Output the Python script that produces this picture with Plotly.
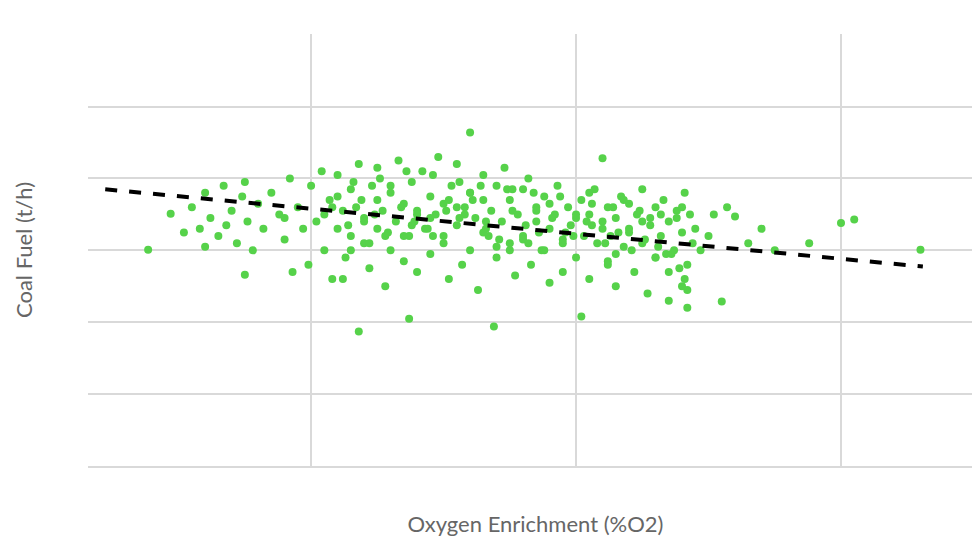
import plotly.graph_objects as go

# oxygen enrichment (grid units) and coal fuel (grid units)
oxygen = [0.385, 0.47, 0.52, 0.55, 0.58, 0.6, 0.6, 0.62, 0.65, 0.67, 0.68, 0.7, 0.72, 0.74, 0.75, 0.75, 0.76, 0.78, 0.8, 0.82,
          0.85, 0.88, 0.9, 0.92, 0.93, 0.95, 0.97, 0.99, 1.0, 1.02, 1.04, 1.05, 1.07, 1.08, 1.1, 1.1, 1.12, 1.13, 1.15, 1.15,
          1.17, 1.18, 1.18, 1.2, 1.2, 1.22, 1.23, 1.25, 1.25, 1.27, 1.28, 1.3, 1.3, 1.32, 1.33, 1.35, 1.35, 1.37, 1.37, 1.38,
          1.4, 1.4, 1.42, 1.43, 1.45, 1.45, 1.47, 1.48, 1.5, 1.5, 1.52, 1.53, 1.55, 1.55, 1.57, 1.58, 1.6, 1.6, 1.6, 1.62,
          1.63, 1.65, 1.65, 1.67, 1.68, 1.69, 1.7, 1.7, 1.72, 1.73, 1.75, 1.75, 1.77, 1.78, 1.8, 1.8, 1.82, 1.83, 1.85, 1.85,
          1.87, 1.88, 1.9, 1.9, 1.92, 1.93, 1.95, 1.95, 1.97, 1.98, 2.0, 2.0, 2.02, 2.02, 2.03, 2.05, 2.05, 2.07, 2.08, 2.1,
          2.1, 2.12, 2.12, 2.13, 2.15, 2.15, 2.17, 2.18, 2.2, 2.2, 2.22, 2.23, 2.25, 2.25, 2.27, 2.28, 2.3, 2.3, 2.32, 2.33,
          2.35, 2.35, 2.37, 2.38, 2.4, 2.4, 2.41, 2.42, 2.42, 2.43, 2.44, 2.45, 2.47, 2.5, 2.52, 2.55, 2.57, 2.6, 2.65, 2.7,
          2.75, 2.88, 3.0, 3.05, 3.3, 1.05, 1.15, 1.25, 1.35, 1.45, 1.55, 1.65, 1.75, 1.85, 1.95, 2.05, 2.15, 2.25, 2.35, 1.1,
          1.3, 1.5, 1.7, 1.9, 2.1, 2.3, 0.9, 1.2, 1.4, 1.6, 1.8, 2.0, 2.2, 2.4, 1.12, 1.28, 1.44, 1.58, 1.74, 1.88, 2.04, 2.18,
          2.34, 1.08, 1.22, 1.38, 1.52, 1.66, 1.82, 1.96, 2.12, 2.28, 2.39,
          1.14, 1.19, 1.24, 1.29, 1.34, 1.39, 1.46, 1.51, 1.56, 1.61, 1.66, 1.71, 1.76, 1.81, 1.86, 1.91, 1.99, 2.06, 2.11, 2.16,
          2.21, 2.26, 2.31, 2.36, 2.41, 1.16, 1.26, 1.36, 1.46, 1.56, 1.64, 1.76, 1.84, 1.94, 2.06, 2.14, 2.24, 2.32, 2.38, 2.42]
coal = [3.01, 3.51, 3.25, 3.6, 3.3, 3.8, 3.05, 3.45, 3.2, 3.9, 3.35, 3.55, 3.1, 3.75, 3.95, 2.66, 3.4, 3.0, 3.65, 3.3,
        3.8, 3.5, 3.15, 4.0, 2.7, 3.6, 3.3, 2.8, 3.9, 3.4, 4.1, 3.0, 3.7, 2.6, 3.3, 4.05, 3.55, 2.9, 3.85, 3.2,
        3.6, 1.87, 4.2, 3.1, 3.45, 2.75, 3.9, 3.3, 4.15, 3.55, 2.5, 3.8, 3.0, 3.4, 4.25, 2.85, 3.65, 2.05, 3.2, 3.95,
        3.5, 2.7, 4.1, 3.3, 3.75, 2.95, 3.5, 4.3, 3.1, 3.65, 2.6, 3.9, 3.35, 4.2, 2.8, 3.6, 4.64, 3.0, 3.8, 3.45,
        2.45, 3.7, 4.05, 3.2, 3.55, 1.94, 3.9, 2.9, 3.4, 4.15, 3.1, 3.7, 2.65, 3.5, 3.85, 3.2, 4.0, 2.8, 3.4, 3.6,
        3.0, 3.75, 3.3, 2.55, 3.5, 3.9, 3.15, 2.7, 3.6, 3.35, 3.45, 2.9, 2.08, 3.7, 3.2, 3.5, 2.6, 3.85, 3.1, 4.28,
        3.4, 2.85, 3.6, 3.2, 3.45, 2.5, 3.75, 3.05, 3.3, 3.65, 2.7, 3.5, 3.1, 3.85, 2.4, 3.35, 3.6, 2.9, 3.2, 3.7,
        2.3, 3.4, 3.0, 3.55, 2.5, 3.25, 3.8, 2.2, 2.8, 3.5, 3.1, 3.3, 3.0, 3.2, 3.5, 2.29, 3.6, 3.47, 3.1, 3.3,
        3.0, 3.1, 3.38, 3.43, 3.01, 3.5, 3.0, 3.7, 3.2, 3.45, 3.6, 3.25, 3.0, 3.55, 3.1, 3.8, 2.95, 3.4, 2.7, 3.75,
        3.9, 3.2, 3.05, 3.65, 3.3, 2.9, 3.45, 3.4, 3.55, 3.8, 3.15, 3.5, 3.25, 3.6, 2.6, 3.2, 3.3, 3.5, 3.85, 3.0, 3.4, 3.7,
        2.95, 3.6, 3.1, 3.35, 3.7, 3.4, 3.1, 3.25, 2.8, 3.45, 2.75,
        3.35, 3.7, 3.5, 3.25, 3.6, 3.4, 3.2, 3.55, 3.45, 3.7, 3.3, 3.15, 3.55, 3.35, 3.25, 3.45, 3.2, 3.35, 3.1, 3.25,
        3.0, 3.15, 3.05, 2.95, 2.6, 3.95, 4.0, 4.1, 4.05, 3.95, 3.9, 3.85, 3.8, 3.75, 3.65, 3.6, 3.55, 3.5, 3.45, 2.45]

trend_x = [0.223, 3.309]
trend_y = [3.85, 2.775]

fig = go.Figure()
fig.add_trace(go.Scatter(x=oxygen, y=coal, mode="markers",
                         marker=dict(color="#56d24a", size=8), showlegend=False))
fig.add_trace(go.Scatter(x=trend_x, y=trend_y, mode="lines",
                         line=dict(color="black", width=4, dash="dash"), showlegend=False))

fig.update_layout(
    width=980, height=546, paper_bgcolor="white", plot_bgcolor="white",
    margin=dict(l=80, r=5, t=26, b=88),
    font=dict(family="Lato, sans-serif", color="#666666"),
    xaxis=dict(range=[0.158, 3.536], tickvals=[1, 2, 3], showticklabels=False, automargin=False,
               showgrid=True, gridcolor="#d9d9d9", gridwidth=1.5, zeroline=False,
               showline=True, linecolor="#d9d9d9", linewidth=1.5,
               title=dict(text="Oxygen Enrichment (%O2)", font=dict(size=22), standoff=50)),
    yaxis=dict(range=[0, 6.01], tickvals=[1, 2, 3, 4, 5, 6], showticklabels=False, automargin=False,
               showgrid=True, gridcolor="#d9d9d9", gridwidth=1.5, zeroline=False,
               title=dict(text="Coal Fuel (t/h)", font=dict(size=22), standoff=48)),
)

fig.write_html("out.html")
